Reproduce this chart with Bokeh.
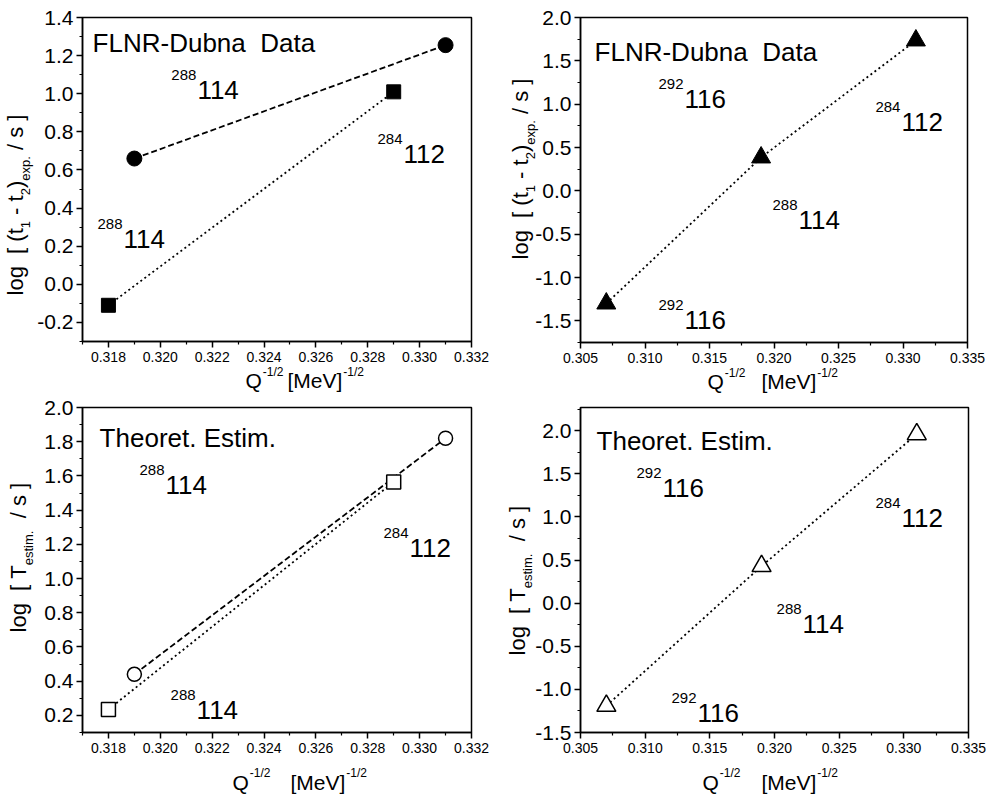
from bokeh.plotting import figure
from bokeh.models import FixedTicker, NumeralTickFormatter, Range1d, ColumnDataSource, LinearAxis
from bokeh.layouts import column, row
from bokeh.embed import file_html
from bokeh.resources import INLINE
from bokeh.core.properties import value

FONT = "Liberation Sans"
NB = "\u00a0"

# ---------------- data ----------------
# Panel A : FLNR-Dubna data (114 / 112)
a_circ_x = [0.319, 0.331]
a_circ_y = [0.66, 1.255]
a_sq_x = [0.318, 0.329]
a_sq_y = [-0.11, 1.01]
# Panel B : FLNR-Dubna data (116 chain)
b_tri_x = [0.307, 0.319, 0.331]
b_tri_y = [-1.30, 0.385, 1.735]
# Panel C : theoretical estimates (114 / 112)
c_circ_x = [0.319, 0.331]
c_circ_y = [0.44, 1.82]
c_sq_x = [0.318, 0.329]
c_sq_y = [0.235, 1.565]
# Panel D : theoretical estimates (116 chain)
d_tri_x = [0.307, 0.319, 0.331]
d_tri_y = [-1.19, 0.43, 1.96]

# nuclide annotations (mass number, Z, position of the element number)
a_mass = ["288", "288", "284"]
a_z = ["114", "114", "112"]
a_lx = [0.32143, 0.31858, 0.32938]
a_ly = [1.02, 0.24, 0.686]

b_mass = ["292", "284", "288", "292"]
b_z = ["116", "112", "114", "116"]
b_lx = [0.31306, 0.32988, 0.3219, 0.31306]
b_ly = [1.065, 0.79, -0.333, -1.487]

c_mass = ["288", "284", "288"]
c_z = ["114", "112", "114"]
c_lx = [0.3202, 0.32961, 0.3214]
c_ly = [1.548, 1.179, 0.229]

d_mass = ["292", "284", "288", "292"]
d_z = ["116", "112", "114", "116"]
d_lx = [0.31134, 0.32982, 0.32217, 0.31405]
d_ly = [1.339, 0.991, -0.239, -1.27]

a_head = "FLNR-Dubna" + NB + " Data"
c_head = "Theoret. Estim."

# ticks
x_ticks_ac = [0.318, 0.320, 0.322, 0.324, 0.326, 0.328, 0.330, 0.332]
x_minor_ac = [0.317, 0.319, 0.321, 0.323, 0.325, 0.327, 0.329, 0.331]
x_ticks_bd = [0.305, 0.310, 0.315, 0.320, 0.325, 0.330, 0.335]
x_minor_bd = [0.3075, 0.3125, 0.3175, 0.3225, 0.3275, 0.3325]
y_ticks_a = [-0.2, 0.0, 0.2, 0.4, 0.6, 0.8, 1.0, 1.2, 1.4]
y_minor_a = [-0.3, -0.1, 0.1, 0.3, 0.5, 0.7, 0.9, 1.1, 1.3]
y_ticks_b = [-1.5, -1.0, -0.5, 0.0, 0.5, 1.0, 1.5, 2.0]
y_minor_b = [-1.75, -1.25, -0.75, -0.25, 0.25, 0.75, 1.25, 1.75]
y_ticks_c = [0.2, 0.4, 0.6, 0.8, 1.0, 1.2, 1.4, 1.6, 1.8, 2.0]
y_minor_c = [0.1, 0.3, 0.5, 0.7, 0.9, 1.1, 1.3, 1.5, 1.7, 1.9]
y_ticks_d = [-1.5, -1.0, -0.5, 0.0, 0.5, 1.0, 1.5, 2.0]
y_minor_d = [-1.25, -0.75, -0.25, 0.25, 0.75, 1.25, 1.75, 2.25]

# approximate Arial / Liberation Sans advance widths (em)
W = {'0': .556, '1': .556, '2': .556, '3': .556, '4': .556, '5': .556, '6': .556,
     '7': .556, '8': .556, '9': .556, '.': .278, '-': .333, '/': .278, ' ': .278,
     '[': .278, ']': .278, '(': .333, ')': .333, 'Q': .778, 'M': .833, 'e': .556,
     'V': .667, 'l': .222, 'o': .556, 'g': .556, 't': .278, 'x': .5, 'p': .556,
     's': .5, 'T': .611, 'i': .222, 'm': .833}


def tw(s, size):
    return sum(W.get(c, .556) for c in s) * size


def make_panel(xr, yr, fw, fh, borders, xt, xmt, yt, ymt, yfmt):
    l, r, t, b = borders
    p = figure(frame_width=fw, frame_height=fh,
               x_range=Range1d(*xr), y_range=Range1d(*yr),
               output_backend="svg", toolbar_location=None,
               min_border_left=l, min_border_right=r,
               min_border_top=t, min_border_bottom=b,
               background_fill_color="white", border_fill_color="white")
    p.xgrid.visible = False
    p.ygrid.visible = False
    p.outline_line_color = "black"
    p.outline_line_width = 1.5
    p.outline_line_alpha = 1.0
    p.xaxis.ticker = FixedTicker(ticks=xt, minor_ticks=xmt)
    p.yaxis.ticker = FixedTicker(ticks=yt, minor_ticks=ymt)
    p.xaxis.formatter = NumeralTickFormatter(format="0.000")
    p.yaxis.formatter = NumeralTickFormatter(format=yfmt)
    for ax in (p.xaxis[0], p.yaxis[0]):
        ax.axis_line_color = "black"
        ax.axis_line_width = 1.5
        ax.major_tick_line_color = "black"
        ax.minor_tick_line_color = "black"
        ax.major_tick_line_width = 1.5
        ax.minor_tick_line_width = 1.2
        ax.major_tick_in = 0
        ax.major_tick_out = 6
        ax.minor_tick_in = 0
        ax.minor_tick_out = 3
        ax.major_label_text_font = FONT
        ax.major_label_text_color = "black"
    p.xaxis.major_label_text_font_size = "14px"
    p.xaxis.major_label_standoff = 4
    p.yaxis.major_label_text_font_size = "21px"
    p.yaxis.major_label_standoff = 3
    return p


def text_axis(p, side, positions, texts, size, standoff, vertical=False):
    """An axis without line or ticks, used only to write title pieces."""
    ax = LinearAxis(ticker=FixedTicker(ticks=positions, minor_ticks=[]),
                    major_label_overrides={pos: t.replace(" ", NB) for pos, t in zip(positions, texts)},
                    axis_line_color=None, major_tick_line_color=None,
                    minor_tick_line_color=None, major_tick_in=0, major_tick_out=0,
                    minor_tick_in=0, minor_tick_out=0,
                    major_label_standoff=standoff,
                    major_label_text_font=FONT,
                    major_label_text_font_size=f"{size}px",
                    major_label_text_color="black")
    if vertical:
        ax.major_label_orientation = "vertical"
    p.add_layout(ax, side)


def xlabel(p, fw, q_px, br_px, sup_standoff, main_standoff):
    x0, x1 = p.x_range.start, p.x_range.end
    d = lambda px: x0 + px / fw * (x1 - x0)
    cq = d(q_px + tw("Q", 21) / 2)
    cs1 = d(q_px + tw("Q", 21) + 1 + tw("-1/2", 12) / 2)
    cm = d(br_px + tw("[MeV]", 21) / 2)
    cs2 = d(br_px + tw("[MeV]", 21) + 1 + tw("-1/2", 12) / 2)
    text_axis(p, "below", [cs1, cs2], ["-1/2", "-1/2"], 12, sup_standoff)
    text_axis(p, "below", [cq, cm], ["Q", "[MeV]"], 21, main_standoff)


def ylabel(p, fh, start_py, pieces, sub_standoff, main_standoff):
    y0, y1 = p.y_range.start, p.y_range.end
    d = lambda py: y0 + py / fh * (y1 - y0)
    py = start_py
    main_pos, main_txt, sub_pos, sub_txt = [], [], [], []
    for txt, size, sub in pieces:
        w = tw(txt, size)
        if sub:
            sub_pos.append(d(py + w / 2)); sub_txt.append(txt)
        else:
            main_pos.append(d(py + w / 2)); main_txt.append(txt)
        py += w
    text_axis(p, "left", sub_pos, sub_txt, 13, sub_standoff, vertical=True)
    text_axis(p, "left", main_pos, main_txt, 22, main_standoff, vertical=True)


def nuclides(p, xs, ys, masses, zs):
    src = ColumnDataSource(dict(x=xs, y=ys, m=masses, z=zs))
    p.text(x="x", y="y", text="z", source=src, text_font=value(FONT),
           text_font_size=value("26px"), text_align="left",
           text_baseline="alphabetic", text_color="black")
    p.text(x="x", y="y", text="m", source=src, text_font=value(FONT),
           text_font_size=value("15px"), text_align="right",
           text_baseline="alphabetic", text_color="black",
           x_offset=-1, y_offset=-15)


def header(p, x, y, txt):
    p.text(x=[x], y=[y], text=[txt], text_font=value(FONT),
           text_font_size=value("26px"), text_align="left",
           text_baseline="alphabetic", text_color="black")


DASH = "6 3"
DOT = "2 3"

ylab_exp = [("log  [ (t", 22, False), ("1", 13, True), (" - t", 22, False),
            ("2", 13, True), (")", 22, False), ("exp.", 13, True),
            (" / s ]", 22, False)]
ylab_est = [("log  [ T", 22, False), ("estim.", 13, True), ("  / s ]", 22, False)]

# ---------- Panel A ----------
pA = make_panel((0.317, 0.332), (-0.3, 1.4), 389, 324, (82, 27, 17, 51),
                x_ticks_ac, x_minor_ac, y_ticks_a, y_minor_a, "0.0")
pA.line(a_circ_x, a_circ_y, line_color="black", line_width=1.8, line_dash=DASH)
pA.line(a_sq_x, a_sq_y, line_color="black", line_width=1.8, line_dash=DOT)
pA.scatter(a_circ_x, a_circ_y, marker="circle", size=15, fill_color="black", line_color="black")
pA.scatter(a_sq_x, a_sq_y, marker="square", size=14, fill_color="black", line_color="black")
nuclides(pA, a_lx, a_ly, a_mass, a_z)
header(pA, 0.31739, 1.264, a_head)
xlabel(pA, 389, 163, 205, 0, -13)
ylabel(pA, 324, 46, ylab_exp, 1, -13)

# ---------- Panel B ----------
pB = make_panel((0.305, 0.335), (-1.75, 2.0), 387, 325, (82, 21, 16, 51),
                x_ticks_bd, x_minor_bd, y_ticks_b, y_minor_b, "0.0")
pB.line(b_tri_x, b_tri_y, line_color="black", line_width=1.8, line_dash=DOT)
pB.scatter(b_tri_x, b_tri_y, marker="triangle", size=19, fill_color="black", line_color="black")
nuclides(pB, b_lx, b_ly, b_mass, b_z)
header(pB, 0.30609, 1.607, a_head)
xlabel(pB, 387, 127, 181, 0, -13)
ylabel(pB, 325, 83, ylab_exp, -6, -13)

# ---------- Panel C ----------
pC = make_panel((0.317, 0.332), (0.1, 2.0), 389, 325, (82, 27, 13, 62),
                x_ticks_ac, x_minor_ac, y_ticks_c, y_minor_c, "0.0")
pC.line(c_circ_x, c_circ_y, line_color="black", line_width=1.8, line_dash=DASH)
pC.line(c_sq_x, c_sq_y, line_color="black", line_width=1.8, line_dash=DOT)
pC.scatter(c_circ_x, c_circ_y, marker="circle", size=14, fill_color="white", line_color="black", line_width=1.5)
pC.scatter(c_sq_x, c_sq_y, marker="square", size=14, fill_color="white", line_color="black", line_width=1.5)
nuclides(pC, c_lx, c_ly, c_mass, c_z)
header(pC, 0.31766, 1.824, c_head)
xlabel(pC, 389, 150, 208, 10, -12)
ylabel(pC, 325, 100, ylab_est, 5, -13)

# ---------- Panel D ----------
pD = make_panel((0.305, 0.335), (-1.5, 2.27), 388, 325, (82, 20, 13, 62),
                x_ticks_bd, x_minor_bd, y_ticks_d, y_minor_d, "0.0")
pD.line(d_tri_x, d_tri_y, line_color="black", line_width=1.8, line_dash=DOT)
pD.scatter(d_tri_x, d_tri_y, marker="triangle", size=19, fill_color="white", line_color="black", line_width=1.5)
nuclides(pD, d_lx, d_ly, d_mass, d_z)
header(pD, 0.30624, 1.884, c_head)
xlabel(pD, 388, 122, 181, 10, -12)
ylabel(pD, 325, 77, ylab_est, -3, -13)

layout = column(row(pA, pB), row(pC, pD))

open("out.html", "w").write(file_html(layout, INLINE))
